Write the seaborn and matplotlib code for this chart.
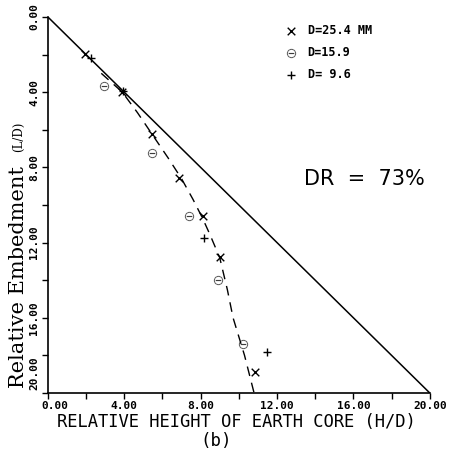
import numpy as np
import pandas as pd
import matplotlib
matplotlib.use("Agg")
import matplotlib.pyplot as plt
from matplotlib.transforms import ScaledTranslation
import seaborn as sns

d254_x = [1.95, 3.9, 5.45, 6.85, 8.1, 9.0, 10.85]
d254_y = [1.95, 4.0, 6.25, 8.55, 10.6, 12.75, 18.9]
d159_x = [2.95, 5.45, 7.4, 8.9, 10.2]
d159_y = [3.7, 7.25, 10.6, 14.0, 17.4]
d96_x = [2.25, 3.95, 8.2, 11.5]
d96_y = [2.2, 3.95, 11.75, 17.8]

# fitted dashed curve
curve_x = [2.8, 3.9, 4.7, 5.5, 6.3, 7.0, 7.6, 8.1, 8.5, 9.0, 9.4, 9.7, 10.0, 10.3, 10.6, 10.8]
curve_y = [3.0, 4.0, 5.1, 6.3, 7.5, 8.6, 9.7, 10.7, 11.6, 12.8, 14.5, 16.0, 17.0, 18.0, 19.2, 20.0]

# 45 degree reference line
diag = [0, 20]

ticks = np.arange(0, 21, 2)
tick_labels = [f"{t:.2f}" if t % 4 == 0 else "" for t in ticks]

sns.set_style("ticks", {"axes.edgecolor": "black", "text.color": "black",
                        "xtick.color": "black", "ytick.color": "black"})

fig = plt.figure(figsize=(4.51, 4.57), dpi=100)
ax = fig.add_axes([0.106, 0.14, 0.847, 0.823])

sns.lineplot(x=diag, y=diag, ax=ax, color="black", lw=1.1)
sns.lineplot(x=curve_x, y=curve_y, ax=ax, color="black", lw=1.0, linestyle=(0, (7, 5)), sort=False)

sns.scatterplot(x=d254_x, y=d254_y, ax=ax, marker="x", s=30, color="black", linewidth=1.0, label="D=25.4 MM")
sns.scatterplot(x=d159_x, y=d159_y, ax=ax, marker=r"$\ominus$", s=45, color="black", linewidth=0.3, label="D=15.9")
sns.scatterplot(x=d96_x, y=d96_y, ax=ax, marker="+", s=40, color="black", linewidth=1.0, label="D= 9.6")

ax.set_xlim(0, 20)
ax.set_ylim(20, 0)
ax.set_xticks(ticks)
ax.set_yticks(ticks)
ax.set_xticklabels(tick_labels, family="DejaVu Sans Mono", fontsize=8, weight="bold")
ax.set_yticklabels(tick_labels, family="DejaVu Sans Mono", fontsize=8, weight="bold",
                   rotation=90, va="center")
ax.tick_params(direction="out", length=4, width=1, colors="black", pad=2)

# the corner labels are pushed apart in the original
ylabs = ax.get_yticklabels()
ylabs[-1].set_transform(ylabs[-1].get_transform() + ScaledTranslation(0, 14 / 72, fig.dpi_scale_trans))
xlabs = ax.get_xticklabels()
xlabs[0].set_transform(xlabs[0].get_transform() + ScaledTranslation(5 / 72, 0, fig.dpi_scale_trans))

sns.despine(ax=ax, top=True, right=True)
ax.spines["left"].set_linewidth(1.2)
ax.spines["bottom"].set_linewidth(1.2)

ax.set_xlabel("")
ax.set_ylabel("")
fig.text(0.525, 0.077, "RELATIVE HEIGHT OF EARTH CORE (H/D)", family="DejaVu Sans Mono",
         fontsize=12.3, ha="center", va="center")

# y label: large slab words plus smaller (L/D)
fig.text(0.042, 0.152, "Relative Embedment", rotation=90, family="DejaVu Serif",
         fontsize=15, ha="center", va="bottom")
fig.text(0.042, 0.667, "(L/D)", rotation=90, family="DejaVu Serif",
         fontsize=8.5, ha="center", va="bottom")

fig.text(0.479, 0.036, "(b)", family="DejaVu Sans Mono", fontsize=12.5, ha="center", va="center")

ax.text(13.4, 8.6, "DR  =  73%", fontsize=15, family="DejaVu Sans", color="black",
        va="center", ha="left")

leg = ax.legend(loc="upper left", bbox_to_anchor=(0.6, 1.0), frameon=False,
                prop={"family": "DejaVu Sans Mono", "size": 8.5, "weight": "bold"},
                handlelength=1.2, handletextpad=0.8, labelspacing=0.75, borderaxespad=0.2)

fig.savefig("out.png", dpi=100)
